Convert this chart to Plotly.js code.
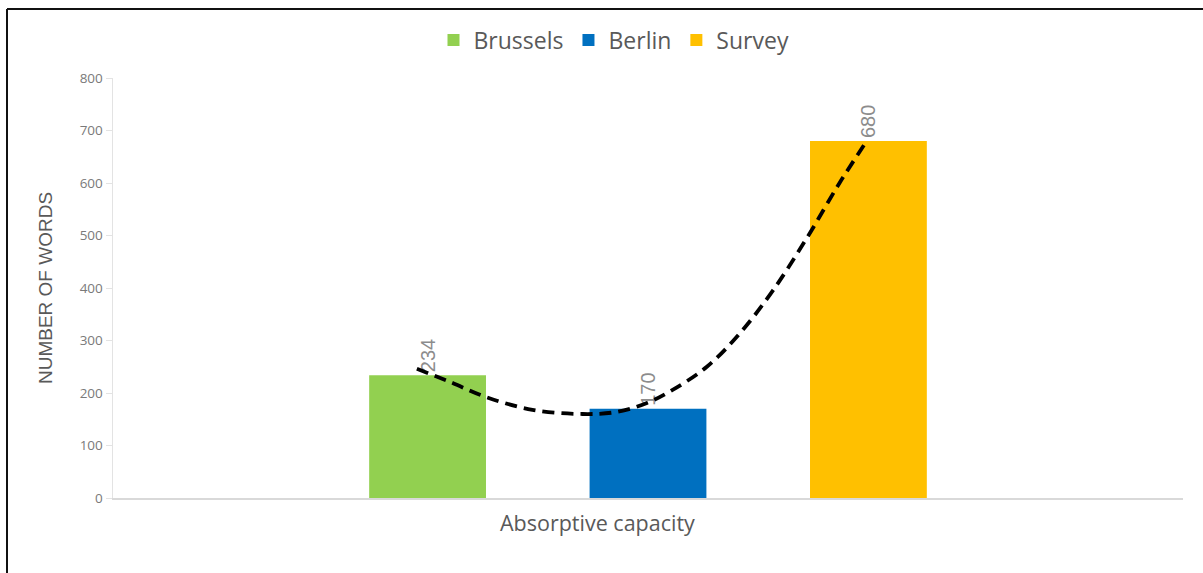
<!DOCTYPE html>
<html>
<head>
<meta charset="utf-8">
<script src="https://cdn.plot.ly/plotly-3.0.1.min.js"></script>
<style>html,body{margin:0;padding:0;background:#fff;}#chart{width:1203px;height:573px;}</style>
</head>
<body>
<div id="chart"></div>
<script>
// Data
var categories = ['Absorptive capacity'];
var seriesNames = ['Brussels', 'Berlin', 'Survey'];
var brussels = [234];
var berlin = [170];
var survey = [680];
// Trendline points (position within category band, value)
var trendX = [-0.216, -0.185, -0.151, -0.108, -0.061, -0.029, -0.001, 0.023, 0.055, 0.086, 0.117, 0.149, 0.179, 0.205];
var trendY = [246, 221, 192, 168, 160, 164, 181, 206, 250, 314, 396, 497, 600, 682];
var yTicks = [0, 100, 200, 300, 400, 500, 600, 700, 800];

var colors = ['#92d050', '#0070c0', '#ffc000'];
var values = [brussels, berlin, survey];

var traces = seriesNames.map(function (name, i) {
  return {
    type: 'bar',
    name: name,
    x: categories,
    y: values[i],
    marker: {color: colors[i]},
    text: values[i].map(String),
    textposition: 'outside',
    textangle: -90,
    cliponaxis: false,
    textfont: {family: 'Liberation Sans, Arial, sans-serif', size: 20, color: '#8c8c8c'},
    hoverinfo: 'y+name'
  };
});

traces.push({
  type: 'scatter',
  mode: 'lines',
  x: trendX,
  y: trendY,
  xaxis: 'x2',
  yaxis: 'y',
  line: {color: '#000000', width: 3.8, dash: '12px,7px', shape: 'spline'},
  showlegend: false,
  hoverinfo: 'skip'
});

var L = 113, R = 1183, T = 78, B = 498, W = 1203, H = 573;
function px(x) { return (x - L) / (R - L); }
function py(y) { return (B - y) / (B - T); }

var layout = {
  width: W,
  height: H,
  margin: {l: L, r: W - R, t: T, b: H - B},
  paper_bgcolor: '#ffffff',
  plot_bgcolor: '#ffffff',
  barmode: 'group',
  bargap: 0.382,
  bargroupgap: 0.47,
  font: {family: 'Open Sans, sans-serif', color: '#595959'},
  showlegend: true,
  legend: {
    orientation: 'h',
    x: px(614), xanchor: 'center',
    y: py(40), yanchor: 'middle',
    font: {family: 'Open Sans, sans-serif', size: 23, color: '#595959'},
    itemwidth: 30,
    traceorder: 'normal'
  },
  xaxis: {
    type: 'category',
    showticklabels: false,
    showgrid: false,
    showline: true,
    linecolor: '#d9d9d9',
    linewidth: 1.5,
    ticks: '',
    zeroline: false,
    fixedrange: true
  },
  xaxis2: {
    overlaying: 'x',
    range: [-0.5, 0.5],
    visible: false,
    fixedrange: true
  },
  yaxis: {
    range: [0, 800],
    tickvals: yTicks,
    ticktext: yTicks.map(String),
    showgrid: false,
    zeroline: false,
    showline: true,
    linecolor: '#e3e3e3',
    linewidth: 1.5,
    ticks: 'outside',
    ticklen: 6,
    tickcolor: '#e3e3e3',
    tickfont: {family: 'Open Sans, sans-serif', size: 13.5, color: '#7a7a7a'},
    title: {
      text: 'NUMBER OF WORDS',
      font: {family: 'Liberation Sans Narrow, Liberation Sans, Arial, sans-serif', size: 19, color: '#595959'},
      standoff: 22
    },
    fixedrange: true
  },
  annotations: [{
    xref: 'paper', yref: 'paper',
    x: px(597), y: py(522),
    xanchor: 'center', yanchor: 'middle',
    text: categories[0],
    showarrow: false,
    font: {family: 'Open Sans, sans-serif', size: 21.5, color: '#595959'}
  }],
  shapes: [
    {type: 'line', xref: 'paper', yref: 'paper', x0: px(7), x1: px(1210), y0: py(9), y1: py(9), line: {color: '#111', width: 2}},
    {type: 'line', xref: 'paper', yref: 'paper', x0: px(7), x1: px(7), y0: py(9), y1: py(580), line: {color: '#111', width: 2}}
  ]
};

Plotly.newPlot('chart', traces, layout, {displayModeBar: false, staticPlot: true});
</script>
</body>
</html>
